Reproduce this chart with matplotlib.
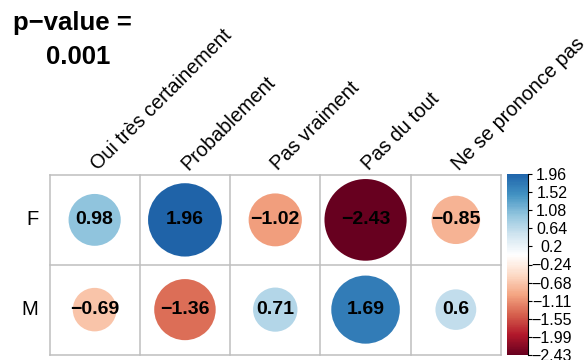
import numpy as np
import matplotlib
matplotlib.use("Agg")
import matplotlib.pyplot as plt
from matplotlib.colors import LinearSegmentedColormap, Normalize
from matplotlib.patches import Circle
import matplotlib.colorbar as mcolorbar

plt.rcParams['font.family'] = ['Liberation Sans', 'DejaVu Sans']

# Standardised residuals by sex (rows) and answer (columns)
rows = ["F", "M"]
cols = ["Oui très certainement", "Probablement", "Pas vraiment", "Pas du tout", "Ne se prononce pas"]
values_F = [0.98, 1.96, -1.02, -2.43, -0.85]
values_M = [-0.69, -1.36, 0.71, 1.69, 0.6]
value_labels_F = ["0.98", "1.96", "\u22121.02", "\u22122.43", "\u22120.85"]
value_labels_M = ["\u22120.69", "\u22121.36", "0.71", "1.69", "0.6"]
legend_labels = ["\u22122.43", "\u22121.99", "\u22121.55", "\u22121.11", "\u22120.68", "\u22120.24",
                 "0.2", "0.64", "1.08", "1.52", "1.96"]
title_lines = ["p\u2212value =", "0.001"]

mat = np.array([values_F, values_M])
labels = [value_labels_F, value_labels_M]
vmin, vmax = mat.min(), mat.max()
lim = np.abs(mat).max()

# Diverging red-white-blue palette
palette = ["#67001F", "#B2182B", "#D6604D", "#F4A582", "#FDDBC7", "#FFFFFF",
           "#D1E5F0", "#92C5DE", "#4393C3", "#2166AC", "#053061"]
cmap = LinearSegmentedColormap.from_list("rdbu2", palette, N=256)
norm = Normalize(-lim, lim)

W, H = 587, 360
fig = plt.figure(figsize=(W / 100, H / 100), dpi=100)

gx0, gx1, gy0, gy1 = 49.5, 501, 175, 354.5
ax = fig.add_axes([gx0 / W, 1 - gy1 / H, (gx1 - gx0) / W, (gy1 - gy0) / H])
nr, nc = mat.shape
ax.set_xlim(0, nc)
ax.set_ylim(0, nr)
ax.axis("off")

grid_col = "#BEBEBE"
for j in range(nc + 1):
    ax.plot([j, j], [0, nr], color=grid_col, lw=1.1, clip_on=False, zorder=1)
for i in range(nr + 1):
    ax.plot([0, nc], [i, i], color=grid_col, lw=1.1, clip_on=False, zorder=1)

for i in range(nr):
    y = nr - i - 0.5
    for j in range(nc):
        v = mat[i, j]
        r = 0.455 * np.sqrt(abs(v) / lim)
        ax.add_patch(Circle((j + 0.5, y), r, facecolor=cmap(norm(v)), edgecolor="none", zorder=2))
        ax.text(j + 0.5, y, labels[i][j], ha="center", va="center", fontsize=14,
                fontweight="bold", color="black", zorder=3)
    ax.annotate(rows[i], xy=(0, y), xytext=(-8, 0), textcoords="offset points",
                ha="right", va="center", fontsize=14.5, annotation_clip=False)

for j, name in enumerate(cols):
    ax.annotate(name, xy=(j + 0.5, nr), xytext=(2.2, 2.8), textcoords="offset points",
                rotation=45, rotation_mode="anchor", ha="left", va="baseline",
                fontsize=14.3, annotation_clip=False)

# Colour legend
cx0, cx1, cy0, cy1 = 507.3, 527.5, 174, 355
cax = fig.add_axes([cx0 / W, 1 - cy1 / H, (cx1 - cx0) / W, (cy1 - cy0) / H])
cb = mcolorbar.ColorbarBase(cax, cmap=cmap, norm=norm,
                            boundaries=np.linspace(vmin, vmax, 257),
                            orientation="vertical")
cb.outline.set_visible(False)
ticks = np.linspace(vmin, vmax, len(legend_labels))
cb.set_ticks(ticks)
cb.set_ticklabels(legend_labels)
cax.tick_params(axis="y", length=3, width=0.8, pad=14.5, labelsize=11.5, right=True, left=False)
for t in cax.get_yticklabels():
    t.set_horizontalalignment("center")
cax.spines["right"].set_visible(True)

fig.text(72.5 / W, 1 - 30 / H, title_lines[0], ha="center", va="baseline",
         fontsize=18.5, fontweight="bold")
fig.text(78.5 / W, 1 - 63.5 / H, title_lines[1], ha="center", va="baseline",
         fontsize=18.5, fontweight="bold")

fig.savefig("out.png", dpi=100)
